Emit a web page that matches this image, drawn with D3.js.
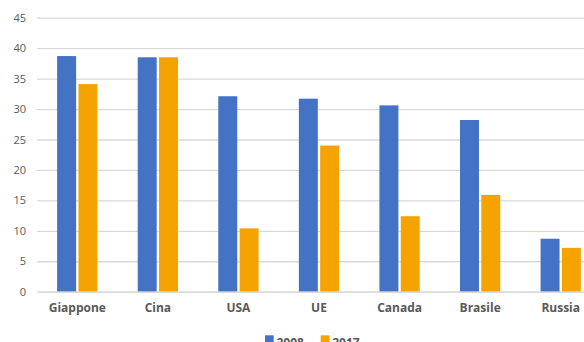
<!DOCTYPE html>
<html><head><meta charset="utf-8">
<script src="https://cdn.jsdelivr.net/npm/d3@7"></script>
<style>html,body{margin:0;padding:0;background:#fff;overflow:hidden}</style>
</head><body>
<svg id="c" width="584" height="342"></svg>
<script>
const categories = ["Giappone","Cina","USA","UE","Canada","Brasile","Russia"];
const series2008 = [38.7,38.5,32.1,31.7,30.6,28.2,8.7];
const series2017 = [34.1,38.5,10.4,24.0,12.4,15.9,7.2];
const seriesNames = ["2008","2017"];
const yTicks = [0,5,10,15,20,25,30,35,40,45];
const colors = ["#4472C4","#F5A300"];

(function(){
const svg = d3.select("#c");
const mLeft = 37, mRight = 601, mTop = 17.7, mBottom = 291.7;
const y = d3.scaleLinear().domain([0,45]).range([mBottom, mTop]);
const x = d3.scaleBand().domain(categories).range([mLeft, mRight]).paddingInner(0).paddingOuter(0);
const inner = d3.scaleBand().domain(seriesNames).range([x.bandwidth()*0.25, x.bandwidth()*0.75]).paddingInner(0.11);

const yAxis = d3.axisLeft(y).tickValues(yTicks).tickSize(-(mRight-mLeft)).tickPadding(11);
const gy = svg.append("g").attr("transform",`translate(${mLeft},0)`).call(yAxis);
gy.select(".domain").remove();
gy.selectAll(".tick line").attr("stroke","#d9d9d9").attr("stroke-width",1.3);
gy.selectAll(".tick text").attr("fill","#595959").attr("font-family","'Open Sans',sans-serif").attr("font-size","11px");

const data = [series2008, series2017];
const g = svg.append("g");
categories.forEach((c,i)=>{
  data.forEach((s,j)=>{
    g.append("rect")
      .attr("x", x(c)+inner(seriesNames[j]))
      .attr("y", y(s[i]))
      .attr("width", inner.bandwidth())
      .attr("height", y(0)-y(s[i]))
      .attr("fill", colors[j]);
  });
});

const xAxis = d3.axisBottom(x).tickSize(0).tickPadding(12);
const gx = svg.append("g").attr("transform",`translate(0,${mBottom})`).call(xAxis);
gx.select(".domain").attr("stroke","#d9d9d9").attr("stroke-width",1.3);
gx.selectAll(".tick text").attr("fill","#595959").attr("font-family","'Open Sans',sans-serif").attr("font-weight","bold").attr("font-size","12px");

const lg = svg.append("g");
const legendX = [265, 320.7];
seriesNames.forEach((n,j)=>{
  lg.append("rect").attr("x",legendX[j]).attr("y",335.3).attr("width",8.7).attr("height",8.7).attr("fill",colors[j]);
  lg.append("text").attr("x",legendX[j]+11.5).attr("y",346.5).text(n)
    .attr("fill","#595959").attr("font-family","'Open Sans',sans-serif").attr("font-weight","bold").attr("font-size","12px");
});
})();
</script>
</body></html>
